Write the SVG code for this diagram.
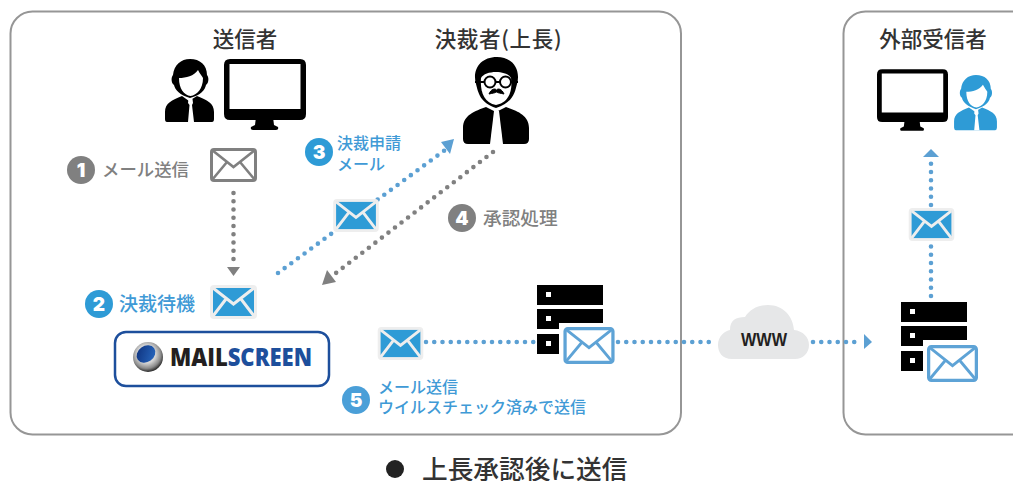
<svg xmlns="http://www.w3.org/2000/svg" width="1013" height="481" viewBox="0 0 1013 481">
<style>
text{font-family:"Noto Sans CJK JP","Noto Sans",sans-serif}
.t{font-size:21.500px;font-weight:500;fill:#333;text-anchor:middle}
.g{fill:#808080;font-weight:500}.b{fill:#3f9ad6;font-weight:500}
.num{font-family:Inter,"Liberation Sans",sans-serif;font-size:19px;font-weight:900;fill:#fff;text-anchor:middle}
.frame{fill:#fff;stroke:#969696;stroke-width:2}
.dot{fill:none;stroke-width:4.6;stroke-linecap:round;stroke-dasharray:0 8.25}
.dg{stroke:#808080}.db{stroke:#5ca0d3}
</style>
<defs>
<symbol id="envf" viewBox="0 0 47 34" overflow="visible"><rect width="47" height="34" rx="4" fill="#eeeeee"/><rect x="3" y="3" width="41" height="28" fill="#2e9bd6"/><path d="M3 3L23.500 19L44 3M3 31L16 14M44 31L31 14" fill="none" stroke="#eeeeee" stroke-width="3"/></symbol>
<symbol id="envo" viewBox="0 0 47 34" overflow="visible"><rect x="1.500" y="1.500" width="44" height="31" rx="2.500" fill="#fff" stroke="currentColor" stroke-width="3"/><path d="M2 2L23.500 19L45 2M2 32L17 14M45 32L30 14" fill="none" stroke="currentColor" stroke-width="2.600"/></symbol>
<symbol id="person" viewBox="0 0 51 64" overflow="visible">
<path d="M3 63Q1 63 1 60V53C1 44 8 41 18 37L25 42L33 37C43 41 50 44 50 53V60Q50 63 48 63Z" fill="currentColor"/>
<path d="M24.500 40H28.500L29 44L28 46L30 63H24L25.500 46L24 44Z" fill="#fff"/>
<path d="M10 26C7 24 7 18 9 16C10 6 17 0 26 0C36 0 43 6 43 16C45 18 45 24 42 26C41 31 37 36 26 39C16 36 11 31 10 26Z" fill="currentColor"/>
<path d="M15 19C22 19 30 17 34 11C36 15 38 17 39 19C39 30 33 36 26.500 37C20 36 15 30 15 19Z" fill="#fff"/>
</symbol>
<symbol id="monitor" viewBox="0 0 82 71" overflow="visible">
<path d="M32 58H49L50 66L54 68Q55 71 52 71H29Q26 71 27 68L31 66Z" fill="#000"/>
<path fill-rule="evenodd" d="M6 0H76Q82 0 82 6V55Q82 61 76 61H6Q0 61 0 55V6Q0 0 6 0ZM5.500 5V50H76.500V5Z" fill="#000"/>
</symbol>
<symbol id="server" viewBox="0 0 66 69" overflow="visible">
<path d="M0 0H66V20H0ZM0 24H66V38H22V44H0ZM0 49H22V69H0Z" fill="#000"/>
<path d="M9 7h5v5h-5zM9 31h5v5h-5zM9 56h5v5h-5z" fill="#fff"/>
</symbol>
<radialGradient id="sp" cx="0.450" cy="0.400" r="0.600"><stop offset="0.500" stop-color="#d4d4d4"/><stop offset="0.800" stop-color="#8a8a8a"/><stop offset="1" stop-color="#2a2a2a"/></radialGradient>
<linearGradient id="sb" x1="0" y1="0" x2="1" y2="1"><stop offset="0" stop-color="#0d2f7a"/><stop offset="1" stop-color="#2a6cc4"/></linearGradient>
</defs>
<rect width="1013" height="481" fill="#fff"/>
<rect id="frame-left" class="frame" x="10.500" y="11.500" width="670.500" height="423" rx="22"/>
<rect id="frame-right" class="frame" x="843.500" y="11.500" width="200" height="423" rx="22"/>
<g id="connectors">
<path class="dot dg" d="M233.500 193V262"/>
<path d="M227 267H240L233.500 276Z" fill="#808080"/>
<path class="dot db" d="M278 273L445 150"/>
<path d="M454 139L450 154L441 142Z" fill="#5ca0d3"/>
<path class="dot dg" d="M493 152L336 273"/>
<path d="M322 285L327 270L336 282Z" fill="#808080"/>
<path class="dot db" d="M426 342H534"/>
<path class="dot db" d="M618 342H716"/>
<path class="dot db" d="M813 342H856"/>
<path d="M864 334L872 342L864 349Z" fill="#5ca0d3"/>
<path class="dot db" d="M931 296V245"/>
<path class="dot db" d="M931 205V163"/>
<path d="M931 149L939 157H923Z" fill="#5ca0d3"/>
</g>
<g id="sender">
<text class="t" x="245" y="47">送信者</text>
<use href="#person" x="164" y="59" width="51" height="64" color="#000"/>
<use href="#monitor" x="224" y="59" width="82" height="71"/>
</g>
<g id="approver">
<text class="t" x="498.500" y="47" letter-spacing="0.700">決裁者(上長)</text>
<path d="M463 139V128C463 115 475 111 486 107L496 112L506 107C517 111 529 115 529 128V139Q529 144 524 144H468Q463 144 463 139Z" fill="#000"/>
<path d="M494 111H499L503 144H490Z" fill="#fff"/>
<path d="M476 84C472 70 480 57 497 57C513 57 521 70 517 84C515 92 513 103 496 108C480 103 478 92 476 84Z" fill="#000"/>
<path d="M481 78C485 70 507 70 511 78C513 92 508 103 496 105C484 103 480 92 481 78Z" fill="#fff"/>
<circle cx="490" cy="82" r="5.500" fill="#fff" stroke="#000" stroke-width="2"/>
<circle cx="505.500" cy="82" r="5.500" fill="#fff" stroke="#000" stroke-width="2"/>
<path d="M475 82H484M495.500 82H500M511 82H518" stroke="#000" stroke-width="2"/>
<path d="M489 94C491 89 495 88 496.500 90C498 88 502 89 504 94C500 93 498 93 496.500 92C495 93 493 93 489 94Z" fill="#000" stroke="#000"/>
</g>
<g id="receiver">
<text class="t" x="933" y="47">外部受信者</text>
<use href="#monitor" x="877" y="69" width="71" height="62"/>
<use href="#person" x="953" y="75" width="45" height="56" color="#2e9bd6"/>
</g>
<g id="step1">
<circle cx="81" cy="170" r="14" fill="#808080"/><text class="num" x="81" y="177">1</text>
<text class="g" x="102" y="176" font-size="17.400">メール送信</text>
<use href="#envo" x="210" y="148" width="47" height="34" color="#808080"/>
</g>
<g id="step2">
<circle cx="99" cy="304" r="14" fill="#2e9bd6"/><text class="num" x="99" y="311">2</text>
<text class="b" x="119" y="310.500" font-size="19">決裁待機</text>
<use href="#envf" x="210" y="285" width="47" height="34"/>
</g>
<g id="step3">
<circle cx="319" cy="152" r="14" fill="#2e9bd6"/><text class="num" x="319" y="159">3</text>
<text class="b" x="337" y="149" font-size="16">決裁申請</text>
<text class="b" x="337" y="170" font-size="16">メール</text>
<use href="#envf" x="333" y="199" width="46" height="33"/>
</g>
<g id="step4">
<circle cx="462" cy="218" r="14" fill="#808080"/><text class="num" x="462" y="225">4</text>
<text class="g" x="483" y="224.500" font-size="18.700">承認処理</text>
</g>
<g id="step5">
<circle cx="356" cy="400" r="14" fill="#4a9fd8"/><text class="num" x="356" y="407">5</text>
<text class="b" x="378" y="393" font-size="16">メール送信</text>
<text class="b" x="378" y="413" font-size="16">ウイルスチェック済みで送信</text>
<use href="#envf" x="377" y="327" width="47" height="33"/>
</g>
<g id="mailscreen">
<rect x="115" y="332" width="214" height="54" rx="11" fill="#fff" stroke="#1d4f9c" stroke-width="2.500"/>
<circle cx="148" cy="357" r="15" fill="url(#sp)"/>
<ellipse cx="146" cy="354" rx="10" ry="8" fill="url(#sb)" transform="rotate(-35 146 354)"/>
<text x="170" y="366" font-size="24" font-weight="800" textLength="142" lengthAdjust="spacingAndGlyphs" style="font-family:'Open Sans',sans-serif" fill="#231f20">MAIL<tspan fill="#1d4f9c">SCREEN</tspan></text>
</g>
<g id="server-left">
<use href="#server" x="537" y="285" width="66" height="69"/>
<use href="#envo" x="563" y="327" width="52" height="37" color="#5ea3d6"/>
</g>
<g id="www">
<path d="M732 359C722 359 718 352 718 345C718 336 725 331 730 330C730 320 736 317 745 317C750 309 758 305 768 305C783 305 793 316 794 330C803 331 809 337 809 345C809 353 803 359 795 359Z" fill="#e6e7e8"/>
<text x="764" y="346" font-size="18" font-weight="700" text-anchor="middle" textLength="46" lengthAdjust="spacingAndGlyphs" style="font-family:'Liberation Sans',sans-serif" fill="#231f20">WWW</text>
</g>
<g id="server-right">
<use href="#server" x="901" y="302" width="66" height="69"/>
<use href="#envo" x="927" y="345" width="51" height="37" color="#5ea3d6"/>
</g>
<g id="envelope-external"><use href="#envf" x="908" y="208" width="47" height="33"/></g>
<g id="caption">
<circle cx="395" cy="469" r="9" fill="#222"/>
<text x="422" y="479" font-size="25.700" font-weight="500" fill="#333">上長承認後に送信</text>
</g>
</svg>
